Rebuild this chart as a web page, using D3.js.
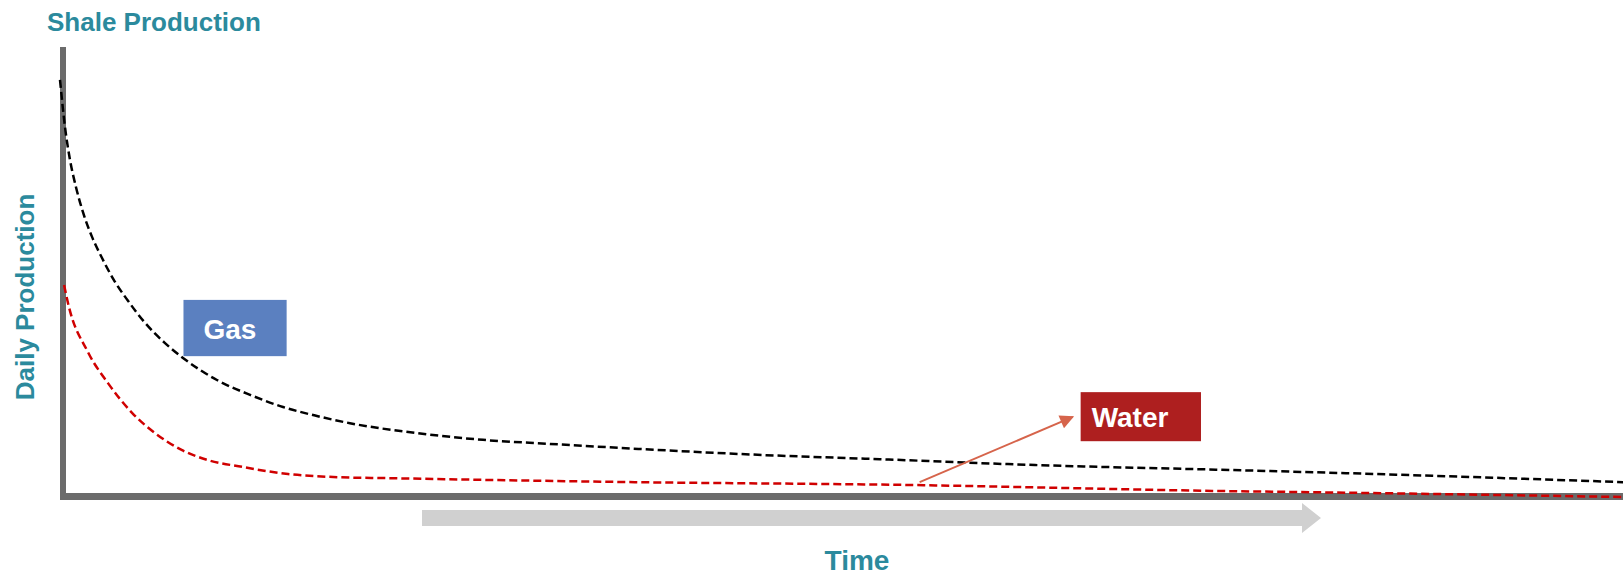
<!DOCTYPE html>
<html>
<head>
<meta charset="utf-8">
<script src="https://cdn.jsdelivr.net/npm/d3@7"></script>
<style>
  html, body { margin: 0; padding: 0; background: #fff; }
  svg { display: block; font-family: "Liberation Sans", Arial, sans-serif; }
</style>
</head>
<body>
<svg id="chart" width="1623" height="575"></svg>
<script>
// Time axis (arbitrary units, 0–100) and daily production (relative, 0–100)
const gasTime   = [0, 0.32, 0.64, 1.02, 1.47, 2.05, 2.69, 3.45, 4.35, 5.44, 6.72, 7.87, 10.04, 12.16, 14.27, 16.44, 18.55, 22.84, 27.06, 31.35, 35.89, 45.17, 52.46, 62.38, 74.86, 82.28, 100];
const gasRate   = [92.7, 82.2, 74.9, 68.9, 63.3, 57.8, 53.1, 48.2, 43.6, 38.7, 34.2, 30.9, 26.0, 22.7, 20.0, 18.0, 16.4, 14.2, 12.7, 11.8, 10.9, 9.3, 8.4, 7.1, 6.0, 5.3, 3.3];
const waterTime = [0.26, 0.51, 1.79, 3.07, 4.61, 6.08, 7.81, 9.47, 11.64, 14.59, 17.79, 20.79, 36.79, 53.74, 74.86, 79.33, 100];
const waterRate = [47.1, 43.1, 32.2, 25.3, 18.7, 14.2, 10.4, 8.2, 6.7, 5.1, 4.4, 4.2, 3.3, 2.7, 1.3, 1.1, 0];

const titleText  = "Shale Production";
const yLabelText = "Daily Production";
const xLabelText = "Time";
const seriesLabels = ["Gas", "Water"];

const W = 1623, H = 575;
const svg = d3.select("#chart");

// Scales: plot frame spans the axis bars
const x = d3.scaleLinear().domain([0, 100]).range([60, 1623]);
const y = d3.scaleLinear().domain([0, 100]).range([497, 47]);

const teal = "#2b8a9d";
const axisGray = "#6b6b6b";

// Title
svg.append("text")
  .attr("x", 47).attr("y", 31)
  .attr("font-size", 26).attr("font-weight", "bold")
  .attr("fill", teal)
  .text(titleText);

// Y-axis label
svg.append("text")
  .attr("transform", "translate(34,297) rotate(-90)")
  .attr("text-anchor", "middle")
  .attr("font-size", 26).attr("font-weight", "bold")
  .attr("fill", teal)
  .text(yLabelText);

// Axis bars (no ticks)
svg.append("rect")
  .attr("x", 60).attr("y", 47).attr("width", 6).attr("height", 453)
  .attr("fill", axisGray);
svg.append("rect")
  .attr("x", 60).attr("y", 493).attr("width", W - 60).attr("height", 7)
  .attr("fill", axisGray);

// Time direction arrow under the x axis
svg.append("path")
  .attr("d", "M422,510 L1302,510 L1302,503 L1321,518 L1302,533 L1302,526 L422,526 Z")
  .attr("fill", "#d0d0d0");

svg.append("text")
  .attr("x", 857).attr("y", 570)
  .attr("text-anchor", "middle")
  .attr("font-size", 28).attr("font-weight", "bold")
  .attr("fill", teal)
  .text(xLabelText);

// Decline curves
const line = d3.line()
  .x(d => x(d[0]))
  .y(d => y(d[1]))
  .curve(d3.curveMonotoneX);

const gasPts = gasTime.map((t, i) => [t, gasRate[i]]);
const waterPts = waterTime.map((t, i) => [t, waterRate[i]]);

svg.append("path")
  .datum(gasPts)
  .attr("d", line)
  .attr("fill", "none")
  .attr("stroke", "#000")
  .attr("stroke-width", 2.5)
  .attr("stroke-dasharray", "8,4");

svg.append("path")
  .datum(waterPts)
  .attr("d", line)
  .attr("fill", "none")
  .attr("stroke", "#d00000")
  .attr("stroke-width", 2.5)
  .attr("stroke-dasharray", "8,4");

// Series labels
function labelBox(t0, t1, v0, v1, fill, text, textDx, baselineDy) {
  const bx = x(t0), bw = x(t1) - x(t0);
  const by = y(v0), bh = y(v1) - y(v0);
  svg.append("rect")
    .attr("x", bx).attr("y", by).attr("width", bw).attr("height", bh)
    .attr("fill", fill);
  svg.append("text")
    .attr("x", bx + textDx).attr("y", by + baselineDy)
    .attr("font-size", 28).attr("font-weight", "bold")
    .attr("fill", "#fff")
    .text(text);
}
labelBox(7.9, 14.5, 43.8, 31.3, "#5b80c0", seriesLabels[0], 20, 39);
labelBox(65.3, 73.0, 23.3, 12.4, "#ae1f1f", seriesLabels[1], 11, 35);

// Pointer from the water curve to its label
const defs = svg.append("defs");
defs.append("marker")
  .attr("id", "head")
  .attr("viewBox", "0 0 10 10")
  .attr("refX", 9).attr("refY", 5)
  .attr("markerWidth", 8).attr("markerHeight", 7)
  .attr("markerUnits", "strokeWidth")
  .attr("orient", "auto")
  .append("path")
  .attr("d", "M0,0 L10,5 L0,10 Z")
  .attr("fill", "#d6644b");

svg.append("line")
  .attr("x1", x(55.0)).attr("y1", y(3.3))
  .attr("x2", x(64.8)).attr("y2", y(17.8))
  .attr("stroke", "#d6644b")
  .attr("stroke-width", 2)
  .attr("marker-end", "url(#head)");
</script>
</body>
</html>
